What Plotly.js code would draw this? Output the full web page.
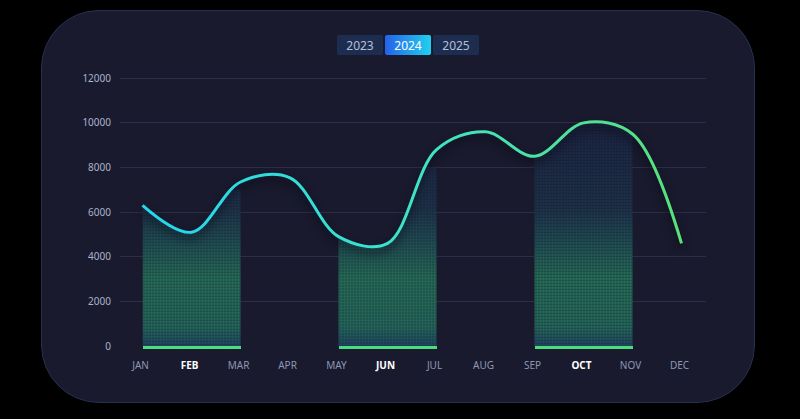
<!DOCTYPE html>
<html>
<head>
<meta charset="utf-8">
<script src="https://cdn.plot.ly/plotly-3.0.1.min.js"></script>
<style>
html, body { margin:0; padding:0; background:#000; width:800px; height:419px; overflow:hidden; font-family:"Noto Sans", sans-serif; }
#panel { position:absolute; left:41px; top:10px; width:712px; height:391px; border:1px solid #25314f; border-radius:58px; background:#191a2d; }
#myDiv { position:absolute; left:0; top:0; width:800px; height:419px; }
.tabs { position:absolute; left:337px; top:35px; display:flex; gap:2px; z-index:5; }
.tabs button { width:46px; height:20px; border:0; border-radius:2px; background:#1c2d50; color:#b4c0da; font:12px "Noto Sans", sans-serif; padding:0; }
.tabs button.on { background:linear-gradient(90deg,#2462ea,#22d0f0); color:#fff; }
</style>
</head>
<body>
<div id="panel"></div>
<div id="myDiv"></div>
<div class="tabs"><button>2023</button><button class="on">2024</button><button>2025</button></div>
<script>
var months = ['JAN','FEB','MAR','APR','MAY','JUN','JUL','AUG','SEP','OCT','NOV','DEC'];
var sales = [6300, 5100, 7350, 7550, 4900, 4600, 8800, 9600, 8500, 10000, 9500, 4600];
var focusMonths = ['FEB', 'JUN', 'OCT'];
var focusCaps = [7000, 8000, 10000];
var yTop = 12100; // a little above 12000 so the top grid line is kept

var xRange = [-0.46, 11.5];
function frac(v) { return (v - xRange[0]) / (xRange[1] - xRange[0]); }

var ticktext = months.map(function(m) {
  return focusMonths.indexOf(m) >= 0 ? '<b><span style="color:#ffffff">' + m + '</span></b>' : m;
});

var fillScale = [
  [0, '#1f4862'],
  [0.08, '#24695c'],
  [0.3, '#267058'],
  [0.48, '#204c54'],
  [0.62, '#1d3249'],
  [1, '#1b2441']
];

var layout = {
  width: 800,
  height: 419,
  margin: {l: 120, r: 94, t: 76, b: 73},
  paper_bgcolor: 'rgba(0,0,0,0)',
  plot_bgcolor: 'rgba(0,0,0,0)',
  showlegend: false,
  font: {family: '"Noto Sans", sans-serif'},
  xaxis: {
    type: 'category',
    anchor: 'y',
    range: xRange,
    tickvals: months,
    ticktext: ticktext,
    showgrid: false,
    zeroline: false,
    showline: false,
    ticks: '',
    ticklabelshift: -2,
    ticklabelstandoff: 12,
    tickfont: {size: 10, color: '#8e97b5'}
  },
  yaxis: {
    anchor: 'x',
    range: [0, yTop],
    tick0: 0,
    dtick: 2000,
    tickformat: 'd',
    gridcolor: '#2c2e48',
    gridwidth: 1,
    zeroline: false,
    showline: false,
    ticks: '',
    ticklabelstandoff: 8,
    tickfont: {size: 10, color: '#aab2cc'}
  },
  xaxis5: {type: 'category', domain: [0, 1], range: xRange, anchor: 'y5', visible: false},
  yaxis5: {domain: [0, 1], range: [0, yTop], anchor: 'x5', visible: false}
};

// invisible trace that carries the main axes (grid and month labels)
var data = [{
  x: months, y: sales, xaxis: 'x', yaxis: 'y',
  type: 'scatter', mode: 'lines', line: {width: 0}, hoverinfo: 'skip'
}];

// shaded columns: area under the line, clipped to the two-month span round each focus month
focusMonths.forEach(function(m, k) {
  var i = months.indexOf(m), n = k + 2;
  layout['xaxis' + n] = {
    type: 'category', domain: [frac(i - 1), frac(i + 1)], range: [i - 1, i + 1],
    anchor: 'y' + n, showgrid: false, zeroline: false, showticklabels: false, ticks: '',
    showline: true, linecolor: '#4cdc7e', linewidth: 2.5
  };
  layout['yaxis' + n] = {domain: [0, focusCaps[k] / yTop], range: [0, focusCaps[k]], anchor: 'x' + n, visible: false};
  data.push({
    x: months, y: sales, xaxis: 'x' + n, yaxis: 'y' + n,
    type: 'scatter', mode: 'none', fill: 'tozeroy',
    line: {shape: 'spline', smoothing: 1, simplify: false},
    fillgradient: {type: 'vertical', start: 0, stop: 10000, colorscale: fillScale},
    hoverinfo: 'skip'
  });
  data.push({
    x: months, y: sales, xaxis: 'x' + n, yaxis: 'y' + n,
    type: 'scatter', mode: 'none', fill: 'tozeroy',
    line: {shape: 'spline', smoothing: 1, simplify: false},
    fillcolor: 'rgba(0,0,0,0)',
    fillpattern: {shape: '.', size: 3, solidity: 0.3, fgcolor: 'rgba(14,15,32,0.55)', bgcolor: 'rgba(0,0,0,0)'},
    hoverinfo: 'skip'
  });
});

data.push({
  x: months, y: sales, xaxis: 'x5', yaxis: 'y5',
  type: 'scatter', mode: 'lines', name: '2024',
  line: {color: '#22d3ee', width: 3, shape: 'spline', smoothing: 1, simplify: false}
});

Plotly.newPlot('myDiv', data, layout, {staticPlot: true}).then(function(gd) {
  var ns = 'http://www.w3.org/2000/svg';
  var defs = gd.querySelector('.main-svg defs');
  var grad = document.createElementNS(ns, 'linearGradient');
  grad.setAttribute('id', 'lineGrad');
  grad.setAttribute('x1', '0'); grad.setAttribute('x2', '1');
  grad.setAttribute('y1', '0'); grad.setAttribute('y2', '0');
  [['0', '#24d6ee'], ['0.5', '#3ee3c8'], ['1', '#5ae07a']].forEach(function(s) {
    var st = document.createElementNS(ns, 'stop');
    st.setAttribute('offset', s[0]);
    st.setAttribute('stop-color', s[1]);
    grad.appendChild(st);
  });
  defs.appendChild(grad);
  var lines = gd.querySelectorAll('.scatterlayer .js-line');
  var path = lines[lines.length - 1];
  path.style.stroke = 'url(#lineGrad)';
  path.style.filter = 'drop-shadow(0px 5px 4px rgba(6,6,16,0.85))';
});
</script>
</body>
</html>
